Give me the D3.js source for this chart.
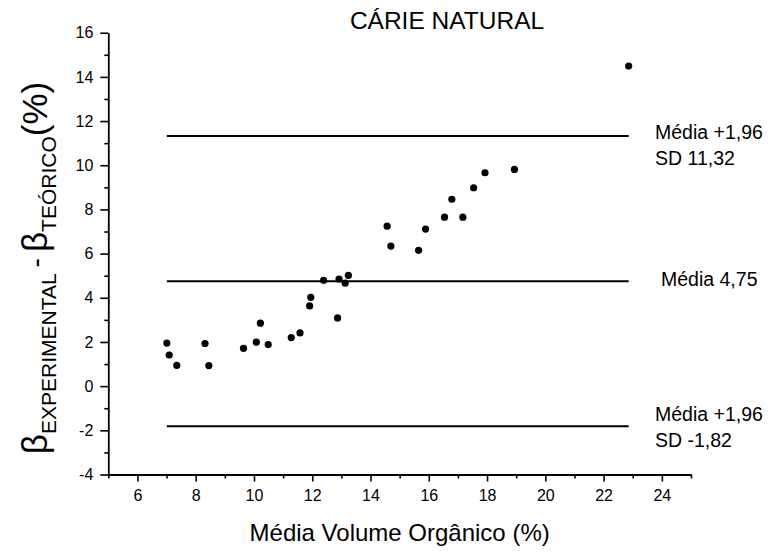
<!DOCTYPE html>
<html>
<head>
<meta charset="utf-8">
<script src="https://cdn.jsdelivr.net/npm/d3@7"></script>
<style>
  html, body { margin: 0; padding: 0; background: #fff; }
  svg { display: block; font-family: "Liberation Sans", Arial, sans-serif; }
</style>
</head>
<body>
<script>
// ---- data ----
const xValues = [7.01, 7.09, 7.35, 8.32, 8.45, 9.64, 10.08, 10.22, 10.49, 11.28, 11.58, 11.91, 11.95, 12.39, 12.87, 12.92, 13.13, 13.24, 14.57, 14.70, 15.65, 15.89, 16.54, 16.79, 17.17, 17.54, 17.93, 18.94, 22.86];
const yValues = [1.95, 1.41, 0.94, 1.93, 0.93, 1.71, 1.99, 2.85, 1.88, 2.20, 2.41, 3.63, 4.02, 4.79, 3.09, 4.85, 4.66, 5.01, 7.24, 6.34, 6.15, 7.11, 7.65, 8.46, 7.65, 8.98, 9.66, 9.81, 14.49];
const refValues = [11.32, 4.75, -1.82];
const refLabels = [["Média +1,96", "SD 11,32"], ["Média 4,75"], ["Média +1,96", "SD -1,82"]];
const xTicks = [6, 8, 10, 12, 14, 16, 18, 20, 22, 24];
const xMinorTicks = [5, 7, 9, 11, 13, 15, 17, 19, 21, 23, 25];
const yTicks = [-4, -2, 0, 2, 4, 6, 8, 10, 12, 14, 16];
const yMinorTicks = [-3, -1, 1, 3, 5, 7, 9, 11, 13, 15];
const titleText = "CÁRIE NATURAL";
const xTitle = "Média Volume Orgânico (%)";

// ---- layout ----
const W = 782, H = 552;
const svg = d3.select("body").append("svg").attr("width", W).attr("height", H);

const x = d3.scaleLinear().domain([5, 25]).range([108.3, 691]);
const y = d3.scaleLinear().domain([-4, 16]).range([474.5, 32.7]);

const fmt = d => String(d);

// minor ticks
svg.append("g").attr("transform", `translate(0,${y(-4)})`)
  .call(d3.axisBottom(x).tickValues(xMinorTicks).tickSize(4).tickSizeOuter(0).tickFormat(""))
  .call(g => g.select(".domain").remove());
svg.append("g").attr("transform", `translate(${x(5)},0)`)
  .call(d3.axisLeft(y).tickValues(yMinorTicks).tickSize(4).tickSizeOuter(0).tickFormat(""))
  .call(g => g.select(".domain").remove());

// major axes
svg.append("g").attr("transform", `translate(0,${y(-4)})`)
  .call(d3.axisBottom(x).tickValues(xTicks).tickSize(7).tickSizeOuter(0).tickPadding(8).tickFormat(fmt));
svg.append("g").attr("transform", `translate(${x(5)},0)`)
  .call(d3.axisLeft(y).tickValues(yTicks).tickSize(8).tickSizeOuter(0).tickPadding(7).tickFormat(fmt));

svg.selectAll(".tick line").attr("stroke", "#000").attr("stroke-width", 1.6);
svg.selectAll(".domain").attr("stroke", "#000").attr("stroke-width", 1.8);
svg.selectAll(".tick text").attr("fill", "#000").attr("font-size", 16)
  .attr("font-family", "Liberation Sans, Arial, sans-serif");

// reference lines
const xMin = d3.min(xValues), xMax = d3.max(xValues);
svg.append("g").selectAll("line").data(refValues).join("line")
  .attr("x1", x(xMin)).attr("x2", x(xMax))
  .attr("y1", d => y(d)).attr("y2", d => y(d))
  .attr("stroke", "#000").attr("stroke-width", 2);

// reference labels
const labelOffsets = [2.5, 5, -5];
const labelX = [655, 661, 655];
refLabels.forEach((lines, i) => {
  const t = svg.append("text")
    .attr("x", labelX[i]).attr("y", y(refValues[i]) + labelOffsets[i])
    .attr("font-size", 19.5).attr("fill", "#000");
  lines.forEach((s, j) => {
    t.append("tspan").attr("x", labelX[i]).attr("dy", j === 0 ? 0 : 26).text(s);
  });
});

// points
const pts = xValues.map((v, i) => [v, yValues[i]]);
svg.append("g").selectAll("circle").data(pts).join("circle")
  .attr("cx", d => x(d[0])).attr("cy", d => y(d[1])).attr("r", 3.6).attr("fill", "#000");

// title
svg.append("text").attr("x", 447).attr("y", 29).attr("text-anchor", "middle")
  .attr("font-size", 24.5).attr("fill", "#000").text(titleText);

// x title
svg.append("text").attr("x", (x(5) + x(25)) / 2).attr("y", 541).attr("text-anchor", "middle")
  .attr("font-size", 24).attr("fill", "#000").text(xTitle);

// y title
const yt = svg.append("text").attr("transform", "translate(47,268) rotate(-90)")
  .attr("text-anchor", "middle").attr("fill", "#000").attr("font-size", 35);
yt.append("tspan").text("β");
yt.append("tspan").attr("font-size", 21).attr("dy", 9).text("EXPERIMENTAL");
yt.append("tspan").attr("font-size", 28).attr("dx", 6).attr("dy", -11).text("-");
yt.append("tspan").attr("dx", 6).attr("dy", 2).text("β");
yt.append("tspan").attr("font-size", 21).attr("dy", 9).text("TEÓRICO");
yt.append("tspan").attr("dy", -9).text("(%)");
</script>
</body>
</html>
